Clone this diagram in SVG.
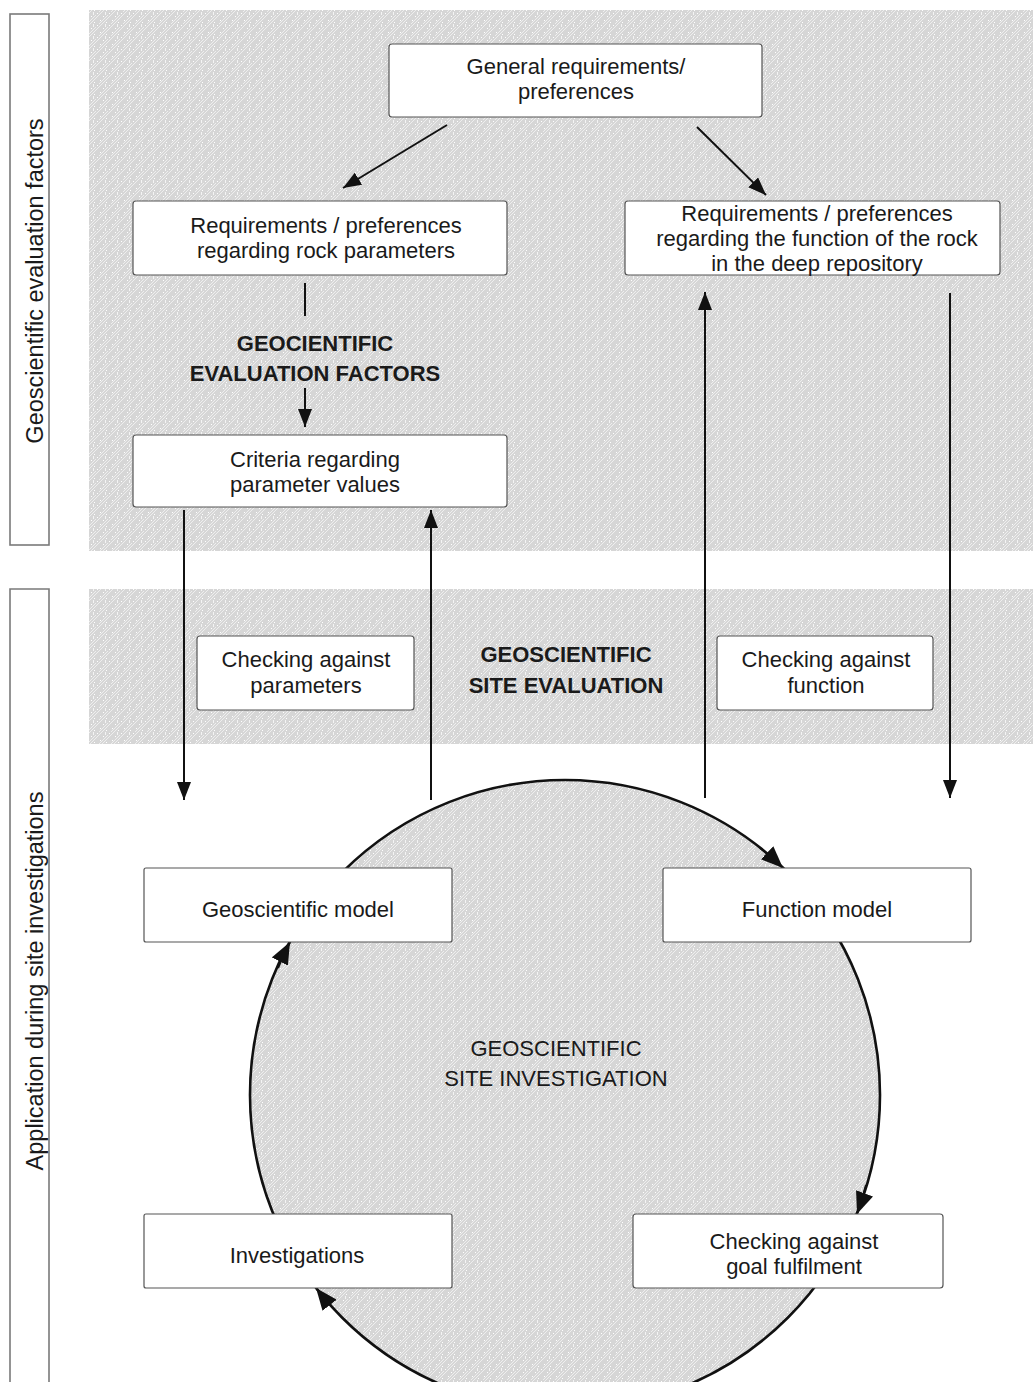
<svg xmlns="http://www.w3.org/2000/svg" width="1033" height="1382" viewBox="0 0 1033 1382">
  <style>
    .box { fill: #ffffff; stroke: #555555; stroke-width: 1.2; }
    .side { fill: #ffffff; stroke: #7a7a7a; stroke-width: 1.6; }
    .t { font-family: "Liberation Sans", Arial, sans-serif; font-size: 22px; fill: #1a1a1a; text-anchor: middle; }
    .s { font-size: 23.5px; }
    .b { font-weight: bold; }
    .conn { fill: none; stroke: #111111; stroke-width: 2; }
    .ring { fill: url(#hatch); stroke: #111111; stroke-width: 2.6; }
  </style>
  <defs>
    <pattern id="hatch" width="12" height="12" patternUnits="userSpaceOnUse">
      <rect width="12" height="12" fill="#d6d6d6"/>
      <path d="M0 6 L6 0 M6 12 L12 6 M3 12 L12 3" stroke="#eeeeee" stroke-width="1"/>
      <rect x="1" y="1" width="1" height="1" fill="#ffffff"/>
      <rect x="7" y="4" width="1" height="1" fill="#ffffff"/>
      <rect x="4" y="8" width="1" height="1" fill="#ffffff"/>
      <rect x="10" y="10" width="1" height="1" fill="#ffffff"/>
      <rect x="9" y="0" width="1" height="3" fill="#f4f4f4"/>
    </pattern>
    <marker id="arrowL" viewBox="0 0 18 14" refX="18" refY="7" markerWidth="18" markerHeight="14" markerUnits="userSpaceOnUse" orient="auto">
      <path d="M0 0 L18 7 L0 14 Z" fill="#111111"/>
    </marker>
    <marker id="arrowC" viewBox="0 0 22 18" refX="22" refY="9" markerWidth="22" markerHeight="18" markerUnits="userSpaceOnUse" orient="auto">
      <path d="M0 0 L22 9 L0 18 Z" fill="#111111"/>
    </marker>
  </defs>

  <rect width="1033" height="1382" fill="#ffffff"/>

  <!-- textured bands -->
  <rect x="89" y="10" width="944" height="541" fill="url(#hatch)"/>
  <rect x="89" y="589" width="944" height="155" fill="url(#hatch)"/>

  <!-- side labels -->
  <g id="side-evaluation">
    <rect class="side" x="10" y="14" width="39" height="531"/>
    <text class="t s" transform="translate(43 281) rotate(-90)">Geoscientific evaluation factors</text>
  </g>
  <g id="side-application">
    <path class="side" d="M10 1384 V589 H49 V1384" />
    <text class="t s" transform="translate(43 981) rotate(-90)">Application during site investigations</text>
  </g>

  <!-- investigation cycle -->
  <g id="cycle">
    <circle class="ring" cx="565" cy="1095" r="315"/>
    <text class="t" x="556" y="1056">GEOSCIENTIFIC</text>
    <text class="t" x="556" y="1086">SITE INVESTIGATION</text>
  </g>

  <!-- connectors -->
  <g id="connectors">
    <line class="conn" x1="447" y1="125" x2="343" y2="188" marker-end="url(#arrowL)"/>
    <line class="conn" x1="697" y1="127" x2="766" y2="195" marker-end="url(#arrowL)"/>
    <line class="conn" x1="305" y1="283" x2="305" y2="316"/>
    <line class="conn" x1="305" y1="388" x2="305" y2="427" marker-end="url(#arrowL)"/>
    <line class="conn" x1="184" y1="510" x2="184" y2="800" marker-end="url(#arrowL)"/>
    <line class="conn" x1="431" y1="800" x2="431" y2="510" marker-end="url(#arrowL)"/>
    <line class="conn" x1="705" y1="798" x2="705" y2="292" marker-end="url(#arrowL)"/>
    <line class="conn" x1="950" y1="293" x2="950" y2="798" marker-end="url(#arrowL)"/>
    <!-- arrowheads on the cycle -->
    <path class="conn" stroke-width="2.6" d="M 760 848 A 315 315 0 0 1 783 868" marker-end="url(#arrowC)"/>
    <path class="conn" stroke-width="2.6" d="M 866 1185 A 315 315 0 0 1 857 1214" marker-end="url(#arrowC)"/>
    <path class="conn" stroke-width="2.6" d="M 335 1310 A 315 315 0 0 1 316 1288" marker-end="url(#arrowC)"/>
    <path class="conn" stroke-width="2.6" d="M 278 968 A 315 315 0 0 1 290 942" marker-end="url(#arrowC)"/>
  </g>

  <!-- nodes -->
  <g id="general">
    <rect class="box" x="389" y="44" width="373" height="73" rx="3"/>
    <text class="t" x="576" y="74">General requirements/</text>
    <text class="t" x="576" y="99">preferences</text>
  </g>
  <g id="req-rock">
    <rect class="box" x="133" y="201" width="374" height="74" rx="3"/>
    <text class="t" x="326" y="233">Requirements / preferences</text>
    <text class="t" x="326" y="258">regarding rock parameters</text>
  </g>
  <g id="req-function">
    <rect class="box" x="625" y="201" width="375" height="74" rx="3"/>
    <text class="t" x="817" y="221">Requirements / preferences</text>
    <text class="t" x="817" y="246">regarding the function of the rock</text>
    <text class="t" x="817" y="271">in the deep repository</text>
  </g>
  <g id="eval-factors">
    <text class="t b" x="315" y="351">GEOCIENTIFIC</text>
    <text class="t b" x="315" y="381">EVALUATION FACTORS</text>
  </g>
  <g id="criteria">
    <rect class="box" x="133" y="435" width="374" height="72" rx="3"/>
    <text class="t" x="315" y="467">Criteria regarding</text>
    <text class="t" x="315" y="492">parameter values</text>
  </g>
  <g id="check-params">
    <rect class="box" x="197" y="636" width="217" height="74" rx="3"/>
    <text class="t" x="306" y="667">Checking against</text>
    <text class="t" x="306" y="693">parameters</text>
  </g>
  <g id="site-evaluation">
    <text class="t b" x="566" y="662">GEOSCIENTIFIC</text>
    <text class="t b" x="566" y="693">SITE EVALUATION</text>
  </g>
  <g id="check-function">
    <rect class="box" x="717" y="636" width="216" height="74" rx="3"/>
    <text class="t" x="826" y="667">Checking against</text>
    <text class="t" x="826" y="693">function</text>
  </g>
  <g id="geo-model">
    <rect class="box" x="144" y="868" width="308" height="74" rx="2"/>
    <text class="t" x="298" y="917">Geoscientific model</text>
  </g>
  <g id="function-model">
    <rect class="box" x="663" y="868" width="308" height="74" rx="2"/>
    <text class="t" x="817" y="917">Function model</text>
  </g>
  <g id="investigations">
    <rect class="box" x="144" y="1214" width="308" height="74" rx="2"/>
    <text class="t" x="297" y="1263">Investigations</text>
  </g>
  <g id="check-goal">
    <rect class="box" x="633" y="1214" width="310" height="74" rx="3"/>
    <text class="t" x="794" y="1249">Checking against</text>
    <text class="t" x="794" y="1274">goal fulfilment</text>
  </g>
</svg>
